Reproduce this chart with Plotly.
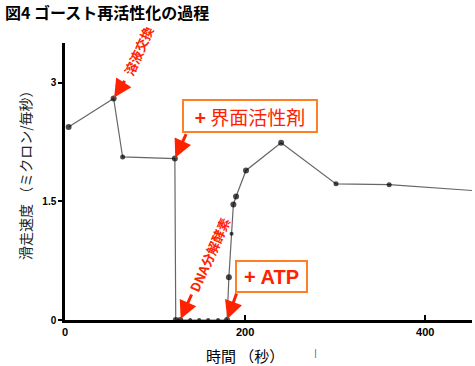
import plotly.graph_objects as go

# ---- data ----
time_s = [4, 54, 64, 122, 123, 128, 139, 149, 159, 170, 180, 182, 185, 187, 190, 201, 240, 301, 360, 460]
speed = [2.44, 2.80, 2.06, 2.04, 0, 0, 0, 0, 0, 0, 0, 0.54, 1.09, 1.46, 1.56, 1.89, 2.24, 1.72, 1.71, 1.63]
y_ticks = [0, 1.5, 3]
y_tick_labels = ["0", "1.5", "3"]
x_ticks = [0, 200, 400]
x_tick_labels = ["0", "200", "400"]

title_text = "図4 ゴースト再活性化の過程"
x_title = "時間 （秒）"
y_title = "滑走速度 （ミクロン/毎秒）"

marker_sizes = [6, 6, 5, 6, 6, 6, 4, 4, 4, 4, 6, 6, 4, 6, 6, 6, 6, 5, 5, 5]

RED = "#FF2200"
ORANGE = "#FF7F27"
JP = "Noto Sans CJK JP"

fig = go.Figure()
fig.add_trace(go.Scatter(
    x=time_s, y=speed, mode="lines+markers",
    line=dict(color="#666666", width=1.2),
    marker=dict(color="black", size=marker_sizes, line=dict(width=0)),
    showlegend=False, cliponaxis=True,
))

L, R, T, B = 65, 3, 43, 46
W, H = 475, 366
pw, ph = W - L - R, H - T - B

def px(xp):
    return (xp - L) / pw

def py(yp):
    return (H - B - yp) / ph

C = dict(xanchor="center", yanchor="middle", xref="paper", yref="paper", showarrow=False)

ann = []
# rotated labels
ann.append(dict(text="<b>溶液交換</b>", x=px(139), y=py(51), textangle=-66,
                font=dict(family=JP, size=13, color=RED), **C))
ann.append(dict(text="<b>DNA分解酵素</b>", x=px(209), y=py(255), textangle=-66,
                font=dict(family=JP, size=13, color=RED), **C))
# boxed labels
ann.append(dict(text="<b>+</b> 界面活性剤", x=px(250), y=py(116), width=130, height=28,
                font=dict(family=JP, size=19, color=RED),
                bordercolor=ORANGE, borderwidth=2, borderpad=1, bgcolor="white", **C))
ann.append(dict(text="<b>+ ATP</b>", x=px(271), y=py(276), width=67, height=27,
                font=dict(family="Liberation Sans", size=20, color=RED),
                bordercolor=ORANGE, borderwidth=2, borderpad=1, bgcolor="white", **C))
# arrows
arrow_specs = [(1, 12, -19), (3, 12, -26), (5, 12, -27), (10, 10, -28)]
for idx, ax_, ay_ in arrow_specs:
    ann.append(dict(text="", x=time_s[idx], y=speed[idx], xref="x", yref="y",
                    showarrow=True, ax=ax_, ay=ay_, arrowhead=2, arrowsize=1.2,
                    arrowwidth=3, arrowcolor=RED, standoff=1))
# axis titles
ann.append(dict(text=x_title, x=px(245), y=py(355),
                font=dict(family=JP, size=15, color="black"), **C))
ann.append(dict(text=y_title, x=px(25), y=py(172), textangle=-90,
                font=dict(family=JP, size=14, color="#222222"), **C))
ann.append(dict(text="|", x=px(315), y=py(353),
                font=dict(family="DejaVu Sans", size=9, color="#555555"), **C))

fig.update_layout(
    width=W, height=H,
    margin=dict(l=L, r=R, t=T, b=B),
    paper_bgcolor="white", plot_bgcolor="white",
    title=dict(text="<b>" + title_text + "</b>", x=5 / W, xanchor="left", y=1 - 13 / H, yanchor="middle",
               font=dict(family=JP, size=16, color="black")),
    annotations=ann,
    xaxis=dict(range=[0, 452], showgrid=False, zeroline=False, showline=True, linecolor="black", linewidth=3,
               tickvals=x_ticks, ticktext=x_tick_labels, ticks="inside", ticklen=5, tickwidth=2, tickcolor="black",
               tickfont=dict(family="Liberation Sans", size=11, color="black", weight="bold")),
    yaxis=dict(range=[0, 3.5], showgrid=False, zeroline=False, showline=True, linecolor="black", linewidth=2.5,
               tickvals=y_ticks, ticktext=y_tick_labels, ticks="outside", ticklen=4, tickwidth=2, tickcolor="black",
               tickfont=dict(family="Liberation Sans", size=10, color="black", weight="bold")),
)

fig.write_html("out.html", config={"displayModeBar": False},
               post_script="document.body.style.margin='0';document.body.style.overflow='hidden';")
